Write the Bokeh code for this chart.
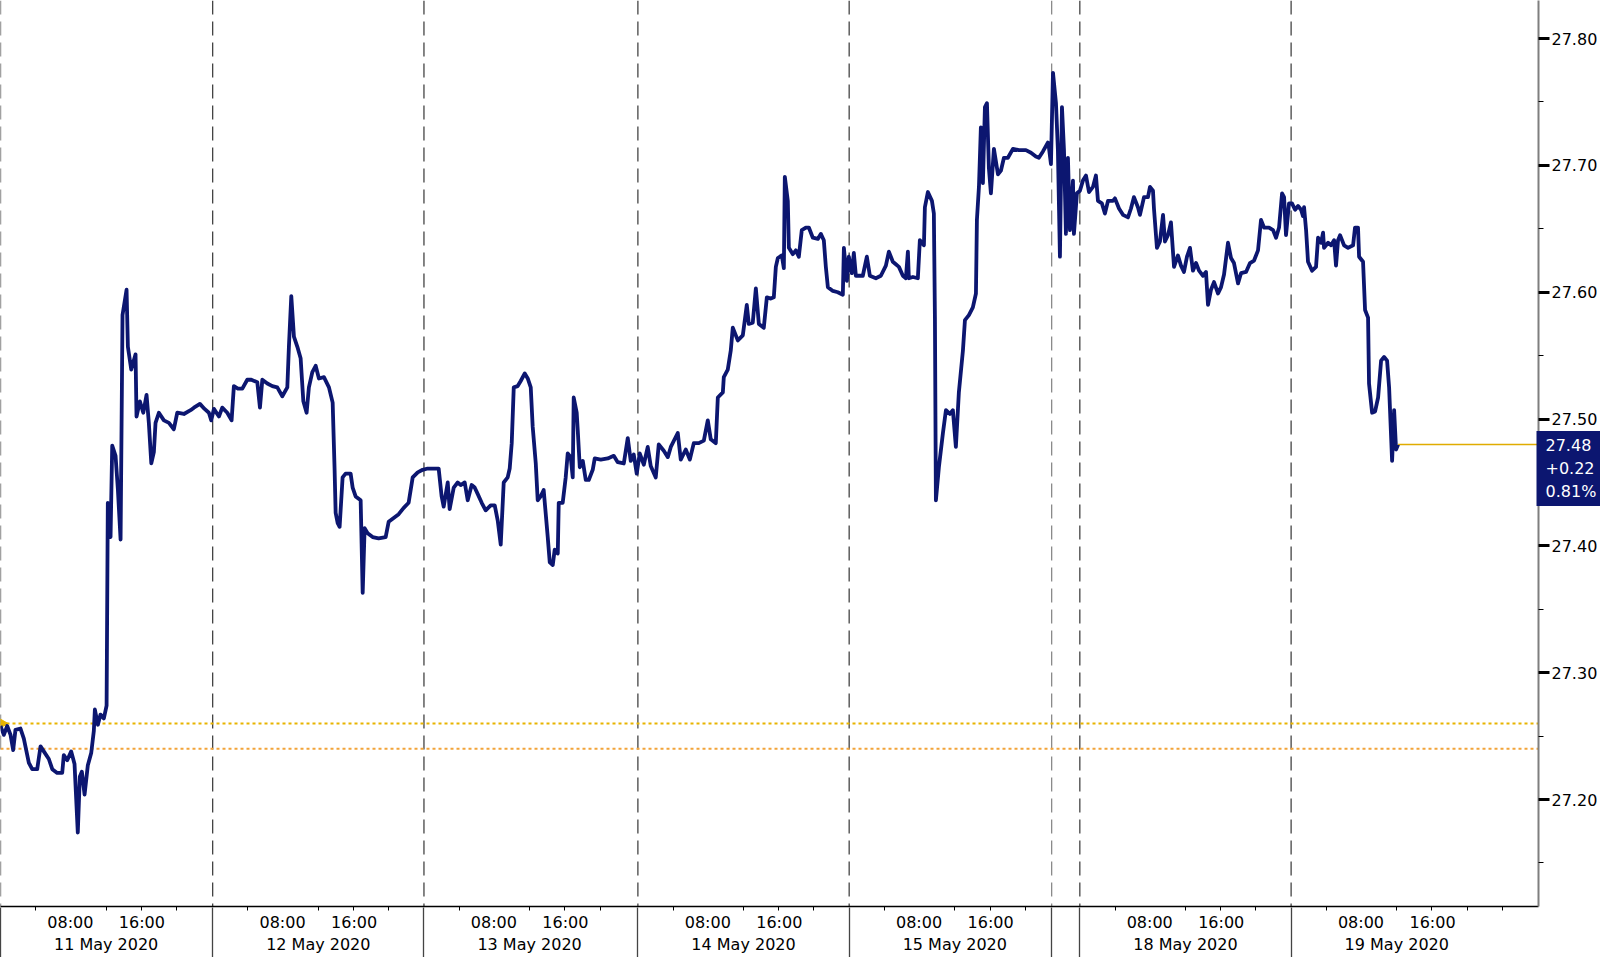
from bokeh.plotting import figure
from bokeh.models import Span, LinearAxis, FixedTicker, Range1d, PrintfTickFormatter
from bokeh.embed import file_html
from bokeh.resources import INLINE

# ---------------- data ----------------
day_labels = ["11 May 2020", "12 May 2020", "13 May 2020", "14 May 2020",
              "15 May 2020", "18 May 2020", "19 May 2020"]
# trading-clock hours (weekend compressed) at which each day starts
day_start_hours = [0.0, 24.1, 48.1, 72.4, 96.4, 122.6, 146.6]
friday_close_hour = 119.4
time_tick_labels = ["08:00", "16:00"]

hours = [
    0.00, 0.38, 0.76, 1.14, 1.44, 1.70, 2.27, 2.65, 3.22, 3.60,
    4.17, 4.55, 4.92, 5.49, 5.88, 6.44, 7.01, 7.19, 7.58, 8.03,
    8.41, 8.78, 9.01, 9.24, 9.55, 9.92, 10.31, 10.60, 10.72, 11.06,
    11.36, 11.74, 12.05, 12.19, 12.50, 12.69, 13.07, 13.33, 13.64, 13.86,
    14.32, 14.47, 14.85, 15.34, 15.45, 15.83, 16.22, 16.59, 16.85, 17.13,
    17.42, 17.61, 17.99, 18.56, 19.13, 19.69, 20.08, 20.83, 21.59, 21.97,
    22.65, 23.18, 23.67, 23.94, 24.24, 24.81, 25.19, 25.76, 26.25, 26.51,
    26.97, 27.47, 28.03, 28.49, 29.17, 29.47, 29.74, 30.31, 30.88, 31.44,
    32.01, 32.58, 32.76, 33.03, 33.33, 33.72, 34.09, 34.40, 34.77, 35.03,
    35.42, 35.80, 36.17, 36.74, 37.31,
    37.73, 37.95, 38.07, 38.30, 38.52, 38.86, 39.20, 39.77, 40.00, 40.34,
    40.91, 41.14, 41.36, 41.70, 42.27, 42.95, 43.75, 44.09, 44.66, 45.23,
    45.80, 46.36, 46.82, 47.39, 47.95, 48.52, 49.20, 49.77, 50.11, 50.34,
    50.80, 51.02, 51.48, 51.93, 52.27, 52.73, 53.07, 53.52, 53.86, 54.20,
    54.66, 55.11, 55.68, 56.14, 56.48, 56.82, 57.16, 57.61, 57.84, 58.07,
    58.30, 58.75, 59.09, 59.55, 59.89, 60.23, 60.45, 60.80, 61.02, 61.36,
    61.70, 62.16, 62.39, 62.73, 62.95, 63.30, 63.41, 63.86, 64.20, 64.43,
    64.77, 65.00, 65.11, 65.45, 65.57, 65.80, 66.14, 66.48, 66.82, 67.27,
    67.50, 68.18, 68.98, 69.66, 70.11, 70.80, 71.25, 71.59, 71.93, 72.27,
    72.61, 73.07, 73.52, 73.86,
    74.43, 74.77, 75.34, 75.80, 76.14, 76.93, 77.27, 77.84, 78.30, 78.75,
    79.32, 79.89, 80.34, 80.68, 81.25, 81.48, 82.05, 82.16, 82.61, 82.95,
    83.18, 83.75, 84.32, 84.77, 85.00, 85.45, 85.80, 86.14, 86.70, 87.05,
    87.50, 87.84, 88.07, 88.30, 88.75, 88.98, 89.09, 89.43, 89.55, 90.00,
    90.34, 90.68, 91.02, 91.48, 91.82, 92.27, 92.84, 93.18, 93.52, 93.75,
    93.98, 94.55, 95.11, 95.68, 95.80, 96.14, 96.36, 96.70, 96.93, 97.16,
    97.95, 98.41, 98.75, 99.43, 100.00, 100.57, 100.91, 101.36, 101.70, 102.05,
    102.50, 102.84, 103.07, 103.18, 103.64, 104.20, 104.43, 104.89, 105.00, 105.34,
    105.80, 106.02, 106.14, 106.25, 106.59, 107.05, 107.39, 107.84, 108.18, 108.52,
    108.86, 109.32, 109.55, 110.00,
    110.45, 110.80, 110.91, 111.14, 111.36, 111.59, 111.82, 112.05, 112.27, 112.50,
    112.84, 113.30, 113.64, 113.98, 114.43, 115.00, 115.68, 116.48, 117.05, 117.61,
    117.95, 118.41, 118.98, 119.09, 119.32, 119.55, 119.89, 120.11, 120.34, 120.57,
    120.80, 121.02, 121.25, 121.48, 121.82, 121.93, 122.27, 122.61, 122.95, 123.30,
    123.64, 124.09, 124.43, 124.66, 125.11, 125.45, 125.80, 126.36, 126.59, 127.05,
    127.50, 128.07, 128.41, 128.75, 129.20, 129.43, 129.89, 130.34, 130.57, 130.91,
    131.02, 131.36, 131.70, 132.05, 132.27, 132.61, 132.95, 133.30, 133.75, 134.09,
    134.43, 134.77, 135.11, 135.45, 135.80, 136.14, 136.59, 136.93, 137.16, 137.50,
    137.84, 138.30, 138.64, 138.98, 139.43, 139.77, 140.11, 140.57, 140.91, 141.48,
    141.93, 142.39, 142.84, 143.18, 143.52, 144.09, 144.55, 144.89, 145.23, 145.57,
    145.80, 146.02, 146.36,
    146.70, 147.05, 147.39, 147.73, 147.95, 148.07, 148.30, 148.52, 148.98, 149.43,
    149.66, 150.00, 150.23, 150.34, 150.80, 151.14, 151.48, 151.70, 151.93, 152.16,
    152.61, 153.07, 153.64, 153.86, 154.20, 154.32, 154.77, 155.00, 155.34, 155.45,
    155.80, 156.14, 156.48, 156.82, 157.16, 157.50, 157.73, 158.07, 158.30, 158.52,
    158.75,
]

prices = [
    27.258, 27.251, 27.258, 27.251, 27.239, 27.255, 27.256, 27.248, 27.229, 27.224,
    27.224, 27.242, 27.238, 27.232, 27.224, 27.221, 27.221, 27.235, 27.231, 27.238,
    27.228, 27.174, 27.218, 27.222, 27.204, 27.227, 27.237, 27.254, 27.271, 27.259,
    27.267, 27.264, 27.274, 27.434, 27.407, 27.479, 27.471, 27.445, 27.405, 27.582,
    27.602, 27.557, 27.539, 27.551, 27.502, 27.514, 27.505, 27.519, 27.497, 27.465,
    27.474, 27.497, 27.505, 27.499, 27.497, 27.492, 27.505, 27.504, 27.507, 27.509,
    27.512, 27.508, 27.505, 27.499, 27.508, 27.502, 27.509, 27.505, 27.499, 27.526,
    27.524, 27.524, 27.531, 27.531, 27.529, 27.509, 27.531, 27.528, 27.526, 27.525,
    27.518, 27.525, 27.557, 27.597, 27.565, 27.557, 27.548, 27.514, 27.505, 27.525,
    27.537, 27.542, 27.532, 27.533, 27.525,
    27.513, 27.460, 27.426, 27.418, 27.415, 27.454, 27.457, 27.457, 27.446, 27.439,
    27.436, 27.363, 27.414, 27.410, 27.407, 27.406, 27.407, 27.419, 27.422, 27.425,
    27.430, 27.434, 27.454, 27.458, 27.460, 27.461, 27.461, 27.461, 27.439, 27.431,
    27.450, 27.429, 27.446, 27.450, 27.448, 27.450, 27.436, 27.448, 27.446, 27.441,
    27.434, 27.428, 27.432, 27.432, 27.420, 27.401, 27.450, 27.454, 27.461, 27.481,
    27.525, 27.526, 27.530, 27.536, 27.532, 27.525, 27.494, 27.465, 27.436, 27.439,
    27.444, 27.407, 27.387, 27.385, 27.397, 27.394, 27.434, 27.434, 27.454, 27.473,
    27.470, 27.454, 27.517, 27.505, 27.491, 27.462, 27.467, 27.452, 27.452, 27.460,
    27.469, 27.468, 27.469, 27.471, 27.466, 27.465, 27.485, 27.467, 27.472, 27.457,
    27.473, 27.464, 27.478, 27.463,
    27.454, 27.480, 27.475, 27.470, 27.478, 27.489, 27.468, 27.476, 27.468, 27.481,
    27.481, 27.483, 27.499, 27.484, 27.481, 27.517, 27.521, 27.533, 27.539, 27.554,
    27.572, 27.562, 27.566, 27.590, 27.575, 27.576, 27.603, 27.575, 27.572, 27.596,
    27.595, 27.596, 27.620, 27.627, 27.629, 27.619, 27.691, 27.672, 27.635, 27.630,
    27.633, 27.628, 27.649, 27.651, 27.651, 27.643, 27.642, 27.646, 27.641, 27.620,
    27.604, 27.601, 27.600, 27.598, 27.635, 27.609, 27.628, 27.615, 27.631, 27.613,
    27.613, 27.628, 27.613, 27.611, 27.613, 27.621, 27.632, 27.624, 27.622, 27.620,
    27.613, 27.611, 27.632, 27.611, 27.612, 27.611, 27.641, 27.637, 27.667, 27.679,
    27.672, 27.662, 27.580, 27.436, 27.462, 27.489, 27.507, 27.504, 27.507, 27.478,
    27.521, 27.554, 27.578, 27.582,
    27.588, 27.599, 27.657, 27.683, 27.730, 27.686, 27.746, 27.749, 27.698, 27.678,
    27.713, 27.693, 27.696, 27.706, 27.706, 27.713, 27.712, 27.712, 27.710, 27.707,
    27.706, 27.711, 27.718, 27.714, 27.701, 27.773, 27.749, 27.712, 27.628, 27.746,
    27.712, 27.646, 27.706, 27.649, 27.688, 27.646, 27.678, 27.680, 27.688, 27.692,
    27.679, 27.683, 27.692, 27.672, 27.670, 27.662, 27.672, 27.672, 27.674, 27.666,
    27.661, 27.659, 27.666, 27.675, 27.667, 27.661, 27.675, 27.675, 27.683, 27.680,
    27.666, 27.635, 27.640, 27.661, 27.640, 27.645, 27.655, 27.620, 27.629, 27.621,
    27.616, 27.628, 27.635, 27.617, 27.623, 27.617, 27.613, 27.616, 27.590, 27.602,
    27.608, 27.599, 27.604, 27.614, 27.639, 27.627, 27.623, 27.607, 27.615, 27.616,
    27.623, 27.625, 27.633, 27.657, 27.651, 27.651, 27.649, 27.643, 27.651, 27.678,
    27.675, 27.645, 27.670,
    27.670, 27.665, 27.668, 27.665, 27.660, 27.667, 27.649, 27.624, 27.617, 27.620,
    27.643, 27.639, 27.647, 27.635, 27.639, 27.637, 27.641, 27.621, 27.641, 27.645,
    27.637, 27.635, 27.637, 27.651, 27.651, 27.628, 27.624, 27.586, 27.580, 27.528,
    27.505, 27.506, 27.517, 27.546, 27.549, 27.546, 27.525, 27.467, 27.507, 27.476,
    27.480,
]
assert len(hours) == len(prices)

y_ticks = [27.20, 27.30, 27.40, 27.50, 27.60, 27.70, 27.80]
y_minor_ticks = [27.15, 27.25, 27.35, 27.45, 27.55, 27.65, 27.75]
reference_levels = [27.26, 27.24]
last_price = 27.48
net_change = "+0.22"
pct_change = "0.81%"

# ---------------- figure ----------------
FONT = "DejaVu Sans"
NAVY = "#0c1670"
x_start, x_end = 0.0, 174.7

p = figure(width=1600, height=957, x_range=Range1d(x_start, x_end),
           y_range=Range1d(27.1157, 27.830), y_axis_location="right",
           toolbar_location=None, output_backend="svg",
           min_border_left=0, min_border_top=0, min_border_bottom=0, min_border_right=0)
p.grid.visible = False
p.outline_line_color = None
p.background_fill_color = "white"
p.border_fill_color = "white"

# day dividers inside the plot
for d in day_start_hours:
    p.add_layout(Span(location=d, dimension="height", line_color="#444444",
                      line_width=1.3, line_dash="14 7", level="underlay"))
p.add_layout(Span(location=friday_close_hour, dimension="height", line_color="#8a8a8a",
                  line_width=1.3, line_dash="14 7", level="underlay"))

# previous-close reference levels
ref_colors = ["#e8b400", "#f2a43a"]
for lvl, c in zip(reference_levels, ref_colors):
    p.add_layout(Span(location=lvl, dimension="width", line_color=c,
                      line_width=2, line_dash="3 3", level="underlay"))
p.scatter([hours[0]], [reference_levels[0]], marker="triangle", angle=-1.5708,
          size=13, fill_color="#e8b400", line_color="#e8b400")

# last price line to the axis
p.line([hours[-1], x_end], [last_price, last_price], line_color="#e0ac00", line_width=1.5)

# price series
p.line(hours, prices, line_color=NAVY, line_width=3.8, line_join="round")

# ---------------- right axis ----------------
ya = p.yaxis[0]
ya.ticker = FixedTicker(ticks=y_ticks, minor_ticks=y_minor_ticks)
ya.formatter = PrintfTickFormatter(format="%.2f")
ya.axis_line_color = "#7f7f7f"
ya.axis_line_width = 2
ya.major_tick_in = 0
ya.major_tick_out = 11
ya.major_tick_line_color = "black"
ya.major_tick_line_width = 3
ya.minor_tick_in = 0
ya.minor_tick_out = 5
ya.minor_tick_line_color = "black"
ya.major_label_standoff = 2
ya.major_label_text_font = FONT
ya.major_label_text_font_size = "16px"
ya.major_label_text_color = "black"

# last-value tag: navy box (thick inward tick) + white text
tag_center = last_price - 0.019
box_axis = LinearAxis(ticker=FixedTicker(ticks=[tag_center], minor_ticks=[]),
                      major_tick_in=64, major_tick_out=0, major_tick_line_width=75,
                      major_tick_line_color=NAVY, axis_line_color=None,
                      minor_tick_in=0, minor_tick_out=0, major_label_standoff=0,
                      major_label_overrides={tag_center: ""})
p.add_layout(box_axis, "right")
text_axis = LinearAxis(ticker=FixedTicker(ticks=[tag_center], minor_ticks=[]),
                       major_tick_in=0, major_tick_out=0, axis_line_color=None,
                       minor_tick_in=0, minor_tick_out=0, major_label_standoff=-55,
                       major_label_text_color="white", major_label_text_font=FONT,
                       major_label_text_font_size="16px",
                       major_label_overrides={tag_center: f"{last_price:.2f}\n{net_change}\n{pct_change}"})
p.add_layout(text_axis, "right")

# ---------------- bottom axis (time + date labels) ----------------
label_ticks = [d + 12 for d in day_start_hours]
minor_x = []
for d in day_start_hours:
    minor_x += [d + 4, d + 16, d + 20]
minor_x.append(day_start_hours[-1] + 24)
gap = "\u00a0" * 5
xa = p.xaxis[0]
xa.ticker = FixedTicker(ticks=label_ticks, minor_ticks=minor_x)
xa.major_label_overrides = {t: f"{time_tick_labels[0]}{gap}{time_tick_labels[1]}\n{lab}"
                            for t, lab in zip(label_ticks, day_labels)}
xa.axis_line_color = "black"
xa.axis_line_width = 1.5
xa.major_tick_in = 0
xa.major_tick_out = 4
xa.minor_tick_in = 0
xa.minor_tick_out = 4
xa.major_tick_line_color = "black"
xa.minor_tick_line_color = "black"
xa.major_label_standoff = 2
xa.major_label_text_font = FONT
xa.major_label_text_font_size = "16px"
xa.major_label_text_color = "black"

# day separators continuing through the label band
sep_ticks = day_start_hours + [friday_close_hour]
sep_axis = LinearAxis(ticker=FixedTicker(ticks=sep_ticks, minor_ticks=[]),
                      major_tick_in=50, major_tick_out=0, major_tick_line_color="#444444",
                      major_tick_line_width=1.3, axis_line_color=None,
                      minor_tick_in=0, minor_tick_out=0,
                      major_label_text_font_size="0px", major_label_standoff=-9,
                      major_label_overrides={t: "" for t in sep_ticks})
p.add_layout(sep_axis, "below")

open("out.html", "w").write(file_html(p, INLINE))
